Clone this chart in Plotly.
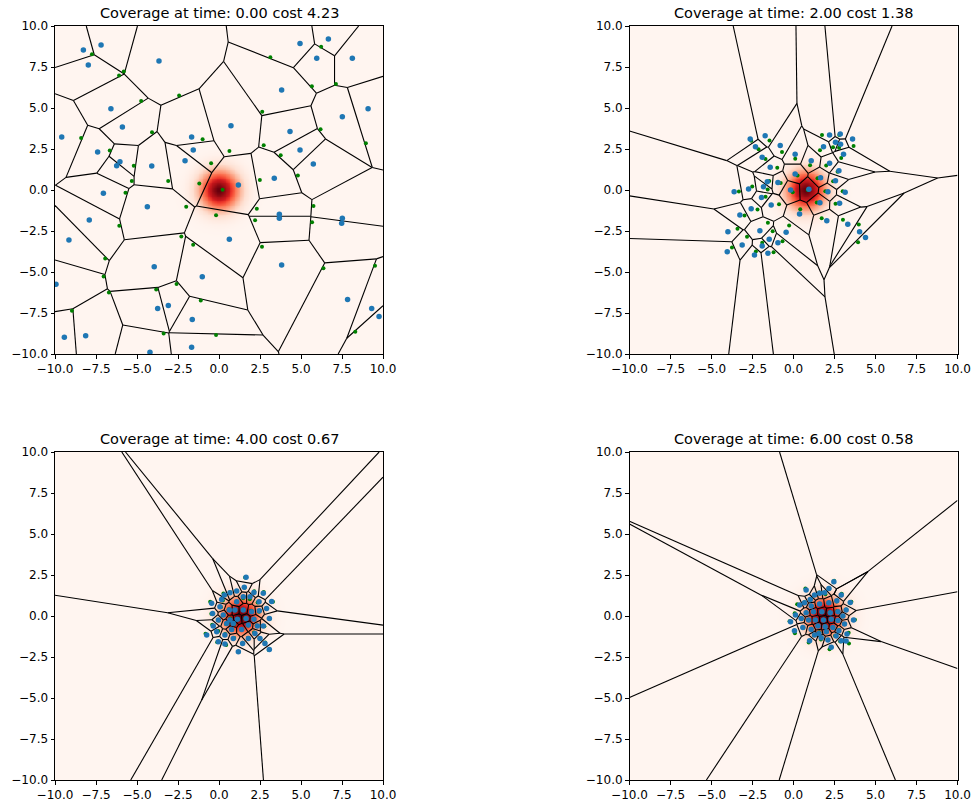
import numpy as np
import plotly.graph_objects as go

# ---------------------------------------------------------------- data
times = [0.0, 2.0, 4.0, 6.0]
costs = [4.23, 1.38, 0.67, 0.58]

# centre of the moving Gaussian density at each snapshot
density_cx = [0.0, 0.75, 1.3, 1.85]
density_cy = [0.0, 0.0, 0.0, 0.0]
density_sigma = 0.8

# agent positions at t = 0
agents_x_t0 = [-8.27, -7.19, -7.97, -3.66, -6.59, -5.89, -9.59, -7.40, -6.04, -6.24,
               -4.10, -1.67, -1.57, -2.07, 6.67, 4.94, 5.96, 8.13, 3.82, 9.09,
               7.52, 0.73, 4.33, 4.94, 5.75, 3.37, 1.18, -7.05, -4.37, -7.91,
               -9.15, -3.95, -1.02, -9.94, -3.74, -3.09, -1.63, -9.43, -8.13, -1.67,
               -4.21, 3.68, 3.68, 7.52, 7.48, 0.63, 3.82, 7.84, 9.31, 9.76]
agents_y_t0 = [8.54, 8.84, 7.62, 7.87, 4.96, 3.84, 3.23, 2.32, 1.73, 1.48,
               1.46, 3.23, 2.44, 1.79, 9.21, 8.94, 8.03, 8.03, 6.10, 4.96,
               4.47, 3.92, 3.56, 2.44, 1.59, 0.71, 0.30, -0.20, -1.02, -1.83,
               -3.05, -4.68, -5.29, -5.75, -7.22, -7.05, -7.89, -8.98, -8.88, -9.59,
               -9.90, -1.48, -1.73, -1.73, -2.03, -3.01, -4.57, -6.67, -7.22, -7.72]

# agent positions at t = 2
agents_x_t2 = [-2.64, -1.73, -2.32, -0.81, -1.91, -1.42, 0.10, 1.08, 0.10, 1.83,
               2.20, 2.85, 2.56, 2.87, 3.60, 3.05, 2.20, 2.77, 2.56, 1.65,
               3.15, 2.81, 2.10, 1.61, 0.94, -0.18, -0.95, -1.60, -1.83, -2.74,
               -3.62, -1.95, -1.36, -2.58, -3.27, 0.37, 2.03, 3.31, 4.03, 4.39,
               -0.45, -2.05, -4.00, -1.48, -0.95, -1.91, -3.13, -4.04, -2.38, -1.56]
agents_y_t2 = [3.11, 3.31, 2.64, 2.71, 1.99, 1.38, 2.18, 1.79, 0.98, 2.64,
               3.36, 3.42, 2.91, 2.79, 3.11, 2.18, 1.63, 1.18, 0.57, 0.75,
               -0.14, -0.81, -0.10, -0.77, 0.04, 0.00, 0.45, 0.51, 0.20, 0.06,
               -0.10, -0.45, -0.91, -1.14, -1.52, -1.46, -1.87, -2.09, -2.54, -2.90,
               -2.58, -2.48, -2.54, -3.01, -3.21, -3.41, -3.35, -3.76, -3.96, -3.86]

# agent positions at t = 4
agents_x_t4 = [1.65, 1.54, 1.08, 0.67, 0.33, 0.16, -0.45, 2.13, 2.70, 3.21,
               -0.39, 0.06, -0.04, -0.35, -0.75, -0.14, 0.36, 0.77, 0.36, 0.87,
               1.18, 1.44, 1.79, 2.19, 2.50, 2.80, 3.07, 2.70, 3.07, 2.90,
               2.44, 1.89, 1.48, 1.08, 0.63, 0.97, 1.48, 1.99, 2.46, 0.26,
               0.67, 1.12, 1.65, 2.13, 2.34, 1.79, 1.38, 0.87, 0.47, -0.04]
agents_y_t4 = [2.36, 1.75, 1.52, 1.42, 1.28, 1.01, 0.77, 1.44, 1.38, 0.89,
               0.16, 0.56, -0.25, -0.61, -1.16, -0.96, -1.16, -0.82, -1.71, -1.37,
               -2.18, -1.67, -1.37, -1.06, -1.37, -1.67, -2.04, -0.61, -0.15, 0.46,
               0.87, 1.17, 1.17, 0.87, 0.36, 0.36, 0.36, 0.26, 0.32, 0.06,
               -0.25, -0.20, -0.16, -0.20, -0.61, -0.55, -0.82, -0.45, -0.45, -1.57]

# agent positions at t = 6
agents_x_t6 = [2.46, 2.16, 0.77, 1.28, 1.59, 1.89, 1.02, 2.91, 3.46, 0.37,
               2.64, 2.16, 1.59, 1.08, 3.21, 3.66, 0.77, 1.22, 1.73, 2.24,
               2.71, 3.01, 0.47, -0.18, 0.92, 1.34, 1.83, 2.30, 2.71, 3.11,
               0.57, 1.08, 1.49, 1.93, 2.40, 2.77, 3.26, 1.55, 0.98, 1.69,
               2.10, 2.60, 2.91, 3.21, 2.30, 0.12, 0.67, 2.00, 1.28, 0.06]
agents_y_t6 = [2.09, 1.67, 1.58, 1.28, 1.38, 1.42, 1.01, 1.28, 0.83, 0.67,
               0.93, 0.81, 0.73, 0.61, 0.36, -0.25, 0.20, 0.26, 0.26, 0.20,
               0.26, 0.00, -0.15, -0.35, -0.25, -0.25, -0.25, -0.20, -0.28, -0.49,
               -0.70, -0.82, -0.61, -0.65, -0.70, -0.90, -1.10, -1.06, -1.51, -1.33,
               -1.46, -1.22, -1.51, -1.53, -1.91, 0.06, 0.81, -0.96, -1.16, -0.90]

agents_x = [agents_x_t0, agents_x_t2, agents_x_t4, agents_x_t6]
agents_y = [agents_y_t0, agents_y_t2, agents_y_t4, agents_y_t6]

tick_vals = [-10.0, -7.5, -5.0, -2.5, 0.0, 2.5, 5.0, 7.5, 10.0]
tick_text = ["\u221210.0", "\u22127.5", "\u22125.0", "\u22122.5", "0.0", "2.5", "5.0", "7.5", "10.0"]

# matplotlib "Reds"
reds = ["#fff5f0", "#fee0d2", "#fcbba1", "#fc9272", "#fb6a4a",
        "#ef3b2c", "#cb181d", "#a50f15", "#67000d"]
reds_scale = [[k / (len(reds) - 1), c] for k, c in enumerate(reds)]

LO, HI = -10.0, 10.0


# ---------------------------------------------------------------- geometry
def clip_halfplane(poly, a, b, c):
    """Keep the part of a convex polygon with a*x + b*y <= c."""
    out = []
    n = len(poly)
    for k in range(n):
        p, q = poly[k], poly[(k + 1) % n]
        fp = a * p[0] + b * p[1] - c
        fq = a * q[0] + b * q[1] - c
        if fp <= 0:
            out.append(p)
        if fp * fq < 0:
            t = fp / (fp - fq)
            out.append((p[0] + t * (q[0] - p[0]), p[1] + t * (q[1] - p[1])))
    return out


def voronoi_edges(xs, ys):
    box = [(LO, LO), (HI, LO), (HI, HI), (LO, HI)]
    seen = set()
    ex, ey = [], []
    for i in range(len(xs)):
        poly = list(box)
        for j in range(len(xs)):
            if i == j:
                continue
            a = xs[j] - xs[i]
            b = ys[j] - ys[i]
            c = 0.5 * (xs[j] ** 2 + ys[j] ** 2 - xs[i] ** 2 - ys[i] ** 2)
            poly = clip_halfplane(poly, a, b, c)
            if not poly:
                break
        for k in range(len(poly)):
            p, q = poly[k], poly[(k + 1) % len(poly)]
            on_border = False
            for d in (0, 1):
                for v in (LO, HI):
                    if abs(p[d] - v) < 1e-7 and abs(q[d] - v) < 1e-7:
                        on_border = True
            if on_border:
                continue
            key = tuple(sorted([(round(p[0], 5), round(p[1], 5)),
                                (round(q[0], 5), round(q[1], 5))]))
            if key in seen:
                continue
            seen.add(key)
            ex += [p[0], q[0], None]
            ey += [p[1], q[1], None]
    return ex, ey


grid = np.linspace(LO, HI, 401)
GX, GY = np.meshgrid(grid, grid)


def density(cx, cy):
    return np.exp(-((GX - cx) ** 2 + (GY - cy) ** 2) / (2 * density_sigma ** 2))


def weighted_centroids(xs, ys, cx, cy):
    best = np.full(GX.shape, np.inf)
    owner = np.zeros(GX.shape, dtype=int)
    for k, (x, y) in enumerate(zip(xs, ys)):
        d = (GX - x) ** 2 + (GY - y) ** 2
        m = d < best
        best[m] = d[m]
        owner[m] = k
    logw = -((GX - cx) ** 2 + (GY - cy) ** 2) / (2 * density_sigma ** 2)
    gx, gy = [], []
    for k in range(len(xs)):
        m = owner == k
        if not m.any():
            gx.append(xs[k]); gy.append(ys[k])
            continue
        w = np.exp(logw[m] - logw[m].max())
        gx.append(float(np.sum(w * GX[m]) / w.sum()))
        gy.append(float(np.sum(w * GY[m]) / w.sum()))
    return gx, gy


# ---------------------------------------------------------------- figure
W, H = 971, 801
SIDE = 328
lefts = [55, 629.5, 55, 629.5]
tops = [26, 26, 452, 452]

fig = go.Figure()
layout = dict(width=W, height=H,
              margin=dict(l=0, r=0, t=0, b=0, pad=0, autoexpand=False),
              paper_bgcolor="white", plot_bgcolor="white", showlegend=False,
              font=dict(family="DejaVu Sans", color="black"))
annotations = []

for i in range(4):
    n = "" if i == 0 else str(i + 1)
    xa, ya = "x" + n, "y" + n
    xs, ys = agents_x[i], agents_y[i]

    fig.add_trace(go.Heatmap(x=grid, y=grid, z=density(density_cx[i], density_cy[i]),
                             colorscale=reds_scale, zmin=0, zmax=1, showscale=False,
                             zsmooth="best", hoverinfo="skip", xaxis=xa, yaxis=ya))
    ex, ey = voronoi_edges(xs, ys)
    fig.add_trace(go.Scatter(x=ex, y=ey, mode="lines",
                             line=dict(color="black", width=1.1),
                             hoverinfo="skip", xaxis=xa, yaxis=ya))
    gx, gy = weighted_centroids(xs, ys, density_cx[i], density_cy[i])
    fig.add_trace(go.Scatter(x=gx, y=gy, mode="markers",
                             marker=dict(color="#008000", size=4),
                             xaxis=xa, yaxis=ya))
    fig.add_trace(go.Scatter(x=xs, y=ys, mode="markers",
                             marker=dict(color="#1f77b4", size=5.5),
                             xaxis=xa, yaxis=ya))

    x0 = lefts[i] / W
    x1 = (lefts[i] + SIDE) / W
    y1 = 1 - tops[i] / H
    y0 = 1 - (tops[i] + SIDE) / H
    axis_common = dict(range=[LO, HI], showgrid=False, zeroline=False, automargin=False,
                       showline=True, mirror=True, linecolor="black", linewidth=1,
                       ticks="outside", ticklen=3.5, tickwidth=1, tickcolor="black",
                       tickvals=tick_vals, ticktext=tick_text,
                       tickfont=dict(family="DejaVu Sans", size=12, color="black"))
    layout["xaxis" + n] = dict(domain=[x0, x1], anchor=ya, **axis_common)
    layout["yaxis" + n] = dict(domain=[y0, y1], anchor=xa, **axis_common)

    annotations.append(dict(text=f"Coverage at time: {times[i]:.2f} cost {costs[i]:.2f}",
                            x=(x0 + x1) / 2, y=1 - (tops[i] - 13) / H,
                            xref="paper", yref="paper", showarrow=False,
                            xanchor="center", yanchor="middle",
                            font=dict(family="DejaVu Sans", size=14.5, color="black")))

layout["annotations"] = annotations
fig.update_layout(**layout)
fig.write_html("out.html")
